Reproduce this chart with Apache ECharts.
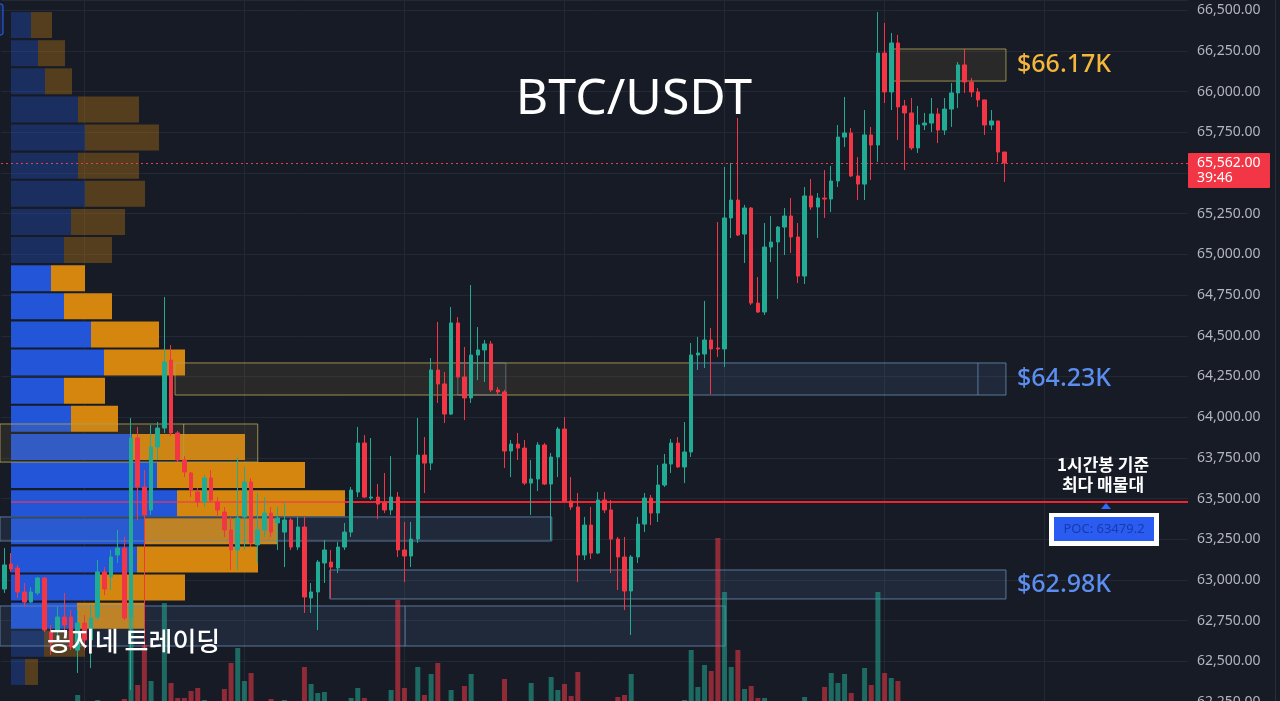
<!DOCTYPE html>
<html><head><meta charset="utf-8">
<script src="https://cdn.jsdelivr.net/npm/echarts@6/dist/echarts.min.js"></script>
<style>html,body{margin:0;padding:0;background:#171b26;overflow:hidden}#c{width:1280px;height:701px}</style>
</head><body><div id="c"></div>
<script>
// ---------- data ----------
const candleOpen = [62944,63098,63073,62926,62864,62920,63012,62680,62692,62772,62772,62569,62735,62631,62772,63049,63018,63153,63196,62772,
63872,63571,63430,63817,63933,64351,63903,63737,63657,63540,63479,63626,63479,63417,63307,63184,63387,63602,63215,63307,
63411,63350,63294,63368,63202,63325,62889,62926,63104,63110,63073,63202,63294,63540,63841,63503,63509,63473,63430,63509,
63184,63147,63251,63767,63718,64290,64204,64019,64579,64247,64118,64382,64413,64450,64167,64155,63792,63835,63810,63595,
63620,63829,63589,63755,63927,63485,63448,63153,63337,63165,63491,63430,63251,63141,62932,63141,63343,63503,63411,63583,
63712,63841,63694,63786,64382,64388,64474,64425,64419,65224,65334,65125,65285,64701,64646,65045,65076,65168,65236,65107,
64867,65359,65291,65346,65340,65451,65721,65746,65482,65432,65734,65672,66237,65998,66299,65912,65869,65654,65795,65807,
65863,65764,65893,65992,66164,66059,65998,65949,65795,65820,65629];
const candleClose = [63092,63067,62926,62864,62926,63012,62692,62612,62772,62723,62588,62735,62631,62766,63049,62944,63141,63196,62766,63872,
63571,63399,63817,63933,64339,63903,63737,63663,63552,63479,63626,63491,63430,63307,63184,63380,63602,63227,63307,63411,
63294,63380,63368,63202,63325,62895,62926,63110,63184,63079,63202,63294,63552,63841,63509,63509,63466,63430,63509,63184,
63147,63251,63767,63718,64290,64204,64019,64579,64247,64118,64382,64413,64450,64167,64155,63792,63835,63810,63595,63620,
63829,63589,63755,63927,63485,63448,63153,63337,63165,63491,63430,63251,63141,62932,63141,63343,63503,63411,63583,63712,
63841,63694,63786,64382,64394,64474,64419,64419,65224,65334,65119,65285,64701,64646,65045,65076,65168,65236,65107,64867,
65359,65291,65346,65340,65451,65721,65746,65482,65432,65734,65672,66237,65998,66299,65906,65869,65654,65795,65807,65863,
65764,65893,65992,66164,66059,65998,65949,65795,65820,65629,65562];
const candleLow = [62920,63049,62889,62834,62858,62907,62680,62539,62649,62680,62569,62428,62569,62459,62754,62907,62938,63104,62754,62324,
63368,62569,63400,63737,63903,63884,63724,63632,63509,63448,63448,63479,63387,63264,63061,63061,63184,63202,63104,63264,
63264,63184,63079,63184,63184,62797,62797,62692,62981,62889,63042,63184,63264,63509,63503,63491,63374,63411,63399,63141,
62987,63079,63227,63534,63675,64087,63964,64013,64241,63982,64087,64228,64216,64155,64136,63688,63632,63737,63583,63399,
63546,63583,63245,63632,63479,63430,62987,63122,63128,63159,63411,63042,62938,62815,62662,63104,63294,63337,63356,63571,
63657,63688,63595,63755,64290,64302,64142,64370,64308,65101,65113,64947,64689,64640,64628,64953,64726,64996,65009,64824,
64818,65273,65101,65224,65260,65414,65660,65475,65334,65334,65457,65568,65930,65887,65703,65518,65641,65623,65764,65752,
65684,65734,65783,65899,65992,65967,65906,65734,65764,65568,65445];
const candleHigh = [63196,63165,63092,62981,62956,63018,63018,62723,62834,62920,62815,62815,62784,62846,63122,63079,63184,63307,63264,63995,
63940,63675,63952,63970,64738,64443,63915,63761,63663,63565,63645,63675,63509,63448,63387,63755,63694,63626,63534,63509,
63448,63448,63473,63380,63387,63387,62981,63122,63245,63184,63233,63350,63571,63940,63890,63872,63589,63657,63761,63540,
63356,63356,63995,63878,64363,64585,64277,64677,64615,64431,64812,64554,64474,64468,64185,64167,63860,63903,63860,63737,
63847,63841,63780,63940,64001,63632,63534,63387,63448,63540,63540,63491,63264,63264,63153,63387,63534,63522,63706,63774,
63866,63878,63970,64456,64493,64714,64548,65199,65537,65562,65838,65304,65291,64861,65193,65236,65174,65285,65346,65193,
65414,65463,65377,65518,65543,65795,65967,65777,65598,65887,65783,66489,66422,66360,66348,65949,65961,65912,65869,65961,
65899,65961,66053,66182,66262,66084,66022,65949,65887,65820,65629];
const volumes = [120,90,140,110,80,100,150,170,130,120,160,260,140,180,210,150,120,130,220,1210,
360,760,400,190,1180,380,230,230,300,330,210,170,180,320,580,730,400,480,190,150,
220,140,210,180,160,540,370,280,290,190,170,150,230,330,230,160,140,180,310,1210,
330,190,540,260,470,580,190,310,180,350,470,170,150,190,120,420,180,150,190,380,
170,160,440,310,370,250,490,190,170,180,140,190,240,260,470,180,150,130,170,160,
140,190,210,710,340,560,500,1830,1290,540,710,320,350,230,230,180,150,170,190,160,
240,140,130,340,480,380,470,280,190,530,360,1290,480,430,400,150,120,100,80,90,
110,70,90,130,100,60,70,120,50,110,90];
const categories = candleOpen.map((_, i) => 'H' + (i + 1));
const emptySlots = 27;
const priceTickStep = 250;
const profileRowPrices = [66409,66236,66063,65890,65718,65545,65372,65199,65026,64853,64681,64508,64335,64162,63989,63817,63644,63471,63298,63125,62952,62780,62607,62434];
const profileBuy  = [20,27,34,67,74,67,74,60,53,40,53,80,93,53,60,121,146,166,133,126,87,66,33,14];
const profileSell = [21,27,27,61,74,61,60,54,48,34,48,68,81,41,47,113,148,168,134,121,87,68,41,13];
const valueAreaFirstRow = 9, valueAreaLastRow = 21;
const pocPrice = 63479.2;
const lastPrice = 65562;
const zones = [
  {from:133.25, to:150.2, low:66065, high:66262, kind:'supply'},
  {from:25.6, to:102.8, low:64136, high:64333, kind:'supply'},
  {from:68.0, to:75.2, low:64136, high:64333, kind:'grey'},
  {from:102.8, to:150.2, low:64136, high:64333, kind:'demand', divider:146.0},
  {from:-0.65, to:38.0, low:63724, high:63958, kind:'supply', divider:26.9},
  {from:-0.65, to:82.1, low:63239, high:63387, kind:'demand'},
  {from:48.8, to:150.2, low:62883, high:63061, kind:'demand'},
  {from:-0.65, to:108.1, low:62594, high:62840, kind:'demand', divider:60.1}
];
const pocStartBar = 51.0;

// ---------- styles ----------
const UP = '#22ab94', DOWN = '#f23645';
const BG = '#171b26', GRIDC = '#232835';
const zoneStyle = {
  supply: {fill:'rgba(160,140,60,0.13)', stroke:'rgba(175,160,85,0.85)'},
  demand: {fill:'rgba(80,120,165,0.16)', stroke:'rgba(105,140,180,0.8)'},
  grey:   {fill:'rgba(120,130,150,0.06)', stroke:'rgba(130,140,160,0.6)'}
};
const fmt = v => v.toLocaleString('en-US', {minimumFractionDigits:2, maximumFractionDigits:2});
const allCats = categories.concat(Array.from({length: emptySlots}, () => ''));

const chart = echarts.init(document.getElementById('c'), null, {renderer:'canvas'});

const candleData = candleOpen.map((o, i) => [o, candleClose[i], candleLow[i], candleHigh[i]]);
const volData = volumes.map((v, i) => ({
  value: v,
  itemStyle: {color: candleClose[i] >= candleOpen[i] ? 'rgba(34,171,148,0.55)' : 'rgba(242,54,69,0.55)'}
}));
const inVA = r => r >= valueAreaFirstRow && r <= valueAreaLastRow;
const buyData = profileBuy.map((v, r) => ({value: v, itemStyle: {color: '#2255d8', opacity: inVA(r) ? 1 : 0.33}}));
const sellData = profileSell.map((v, r) => ({value: v, itemStyle: {color: '#d4860f', opacity: inVA(r) ? 1 : 0.33}}));

function zoneRender(params, api) {
  const z = zones[params.dataIndex];
  const base = api.coord([0, z.high]);
  const bot = api.coord([0, z.low]);
  const bw = api.size([1, 0])[0];
  const xa = base[0] + z.from * bw, xb = base[0] + z.to * bw;
  const st = zoneStyle[z.kind];
  const children = [{
    type: 'rect',
    shape: {x: xa, y: base[1], width: xb - xa, height: bot[1] - base[1]},
    style: {fill: st.fill, stroke: st.stroke, lineWidth: 1}
  }];
  if (z.divider != null) {
    const xd = base[0] + z.divider * bw;
    children.push({type: 'line', shape: {x1: xd, y1: base[1], x2: xd, y2: bot[1]}, style: {stroke: st.stroke, lineWidth: 1}});
  }
  return {type: 'group', children};
}

function pocRender(params, api) {
  const cs = params.coordSys;
  const p = api.coord([0, pocPrice]);
  const bw = api.size([1, 0])[0];
  const xs = p[0] + pocStartBar * bw;
  return {type: 'group', children: [
    {type: 'line', shape: {x1: cs.x + 10, y1: p[1], x2: xs, y2: p[1]}, style: {stroke: 'rgba(235,60,80,0.6)', lineWidth: 2}},
    {type: 'line', shape: {x1: xs, y1: p[1], x2: cs.x + cs.width, y2: p[1]}, style: {stroke: '#f2232f', lineWidth: 2}}
  ]};
}

const option = {
  backgroundColor: BG,
  animation: false,
  grid: [
    {left: 1, right: 92, top: 0, bottom: -1, outerBoundsMode: 'none', containLabel: false},
    {left: 11, top: 11, width: 1000, height: 675, outerBoundsMode: 'none', containLabel: false},
    {left: 1, right: 92, top: 530, bottom: -20, outerBoundsMode: 'none', containLabel: false}
  ],
  xAxis: [
    {type: 'category', gridIndex: 0, data: allCats, boundaryGap: true,
     axisLine: {show: false}, axisLabel: {show: false},
     axisTick: {show: false, alignWithLabel: true},
     splitLine: {show: true, alignWithLabel: true, interval: (i) => i >= 12 && (i - 12) % 24 === 0, lineStyle: {color: GRIDC, width: 1}}},
    {type: 'value', gridIndex: 1, min: 0, max: 1000, show: false},
    {type: 'category', gridIndex: 2, data: allCats, boundaryGap: true, show: false}
  ],
  yAxis: [
    {type: 'value', gridIndex: 0, position: 'right', min: 62250, max: 66563, interval: priceTickStep,
     axisLine: {show: false}, axisTick: {show: false},
     axisLabel: {showMaxLabel: false, color: '#b2b5be', fontSize: 14, margin: 9, fontFamily: 'Noto Sans', formatter: v => fmt(v)},
     splitLine: {lineStyle: {color: GRIDC, width: 1}}},
    {type: 'category', gridIndex: 1, data: profileRowPrices.map(String), inverse: true, show: false},
    {type: 'value', gridIndex: 2, min: 0, max: 1910, show: false}
  ],
  series: [
    {name: 'buy', type: 'bar', xAxisIndex: 1, yAxisIndex: 1, stack: 'vp', barWidth: 26, data: buyData, z: 1, silent: true},
    {name: 'sell', type: 'bar', xAxisIndex: 1, yAxisIndex: 1, stack: 'vp', barWidth: 26, data: sellData, z: 1, silent: true},
    {name: 'zones', type: 'custom', xAxisIndex: 0, yAxisIndex: 0, clip: false, z: 2, silent: true,
     renderItem: zoneRender, data: zones.map(z => [0, z.low])},
    {name: 'volume', type: 'bar', xAxisIndex: 2, yAxisIndex: 2, barWidth: 5, data: volData, z: 3, silent: true},
    {name: 'poc', type: 'custom', xAxisIndex: 0, yAxisIndex: 0, clip: false, z: 4, silent: true,
     renderItem: pocRender, data: [[0, pocPrice]]},
    {name: 'BTC/USDT', type: 'candlestick', xAxisIndex: 0, yAxisIndex: 0, data: candleData, barWidth: 4, z: 5,
     itemStyle: {color: UP, color0: DOWN, borderColor: UP, borderColor0: DOWN, borderWidth: 1},
     markLine: {silent: true, symbol: ['none', 'none'], label: {show: false},
       lineStyle: {color: '#e8404c', type: [2, 3], width: 1, opacity: 1},
       data: [{yAxis: lastPrice}]}}
  ]
};
chart.setOption(option);

const py = chart.convertToPixel({yAxisIndex: 0}, lastPrice);
const pocY = chart.convertToPixel({yAxisIndex: 0}, pocPrice);
const zy = p => chart.convertToPixel({yAxisIndex: 0}, p);
const KR = '"Noto Sans CJK KR", "Noto Sans", sans-serif';
chart.setOption({graphic: [
  {type: 'line', shape: {x1: 1275.5, y1: 0, x2: 1275.5, y2: 701}, style: {stroke: '#2a2e39', lineWidth: 1}, z: 10},
  {type: 'rect', shape: {x: -4, y: 4, width: 7, height: 31, r: 2}, style: {fill: 'rgba(41,98,255,0.15)', stroke: '#2962ff', lineWidth: 1}, z: 10},
  {type: 'text', x: 634, y: 100, style: {text: 'BTC/USDT', fill: '#ffffff', font: '400 50px "Noto Sans", sans-serif', align: 'center', verticalAlign: 'middle'}, z: 20},
  {type: 'text', x: 1017, y: zy(66165), style: {text: '$66.17K', fill: '#f4b63b', font: '500 25px "Noto Sans", sans-serif', verticalAlign: 'middle'}, z: 20},
  {type: 'text', x: 1017, y: zy(64234), style: {text: '$64.23K', fill: '#5b8ef0', font: '500 25px "Noto Sans", sans-serif', verticalAlign: 'middle'}, z: 20},
  {type: 'text', x: 1017, y: zy(62972), style: {text: '$62.98K', fill: '#5b8ef0', font: '500 25px "Noto Sans", sans-serif', verticalAlign: 'middle'}, z: 20},
  {type: 'text', x: 1103, y: 465, style: {text: '1시간봉 기준', fill: '#ffffff', font: '700 17px ' + KR, align: 'center', verticalAlign: 'middle'}, z: 20},
  {type: 'text', x: 1103, y: 485, style: {text: '최다 매물대', fill: '#ffffff', font: '700 17px ' + KR, align: 'center', verticalAlign: 'middle'}, z: 20},
  {type: 'polygon', shape: {points: [[1106, pocY + 1], [1101, pocY + 7], [1111, pocY + 7]]}, style: {fill: '#2f6bff'}, z: 20},
  {type: 'rect', shape: {x: 1049, y: 513, width: 110, height: 33}, style: {fill: '#ffffff'}, z: 20},
  {type: 'rect', shape: {x: 1054, y: 517, width: 100, height: 24}, style: {fill: '#2a5cf2'}, z: 21},
  {type: 'text', x: 1104, y: 529, style: {text: 'POC: 63479.2', fill: '#1a3aa8', font: '13px "Noto Sans", sans-serif', align: 'center', verticalAlign: 'middle'}, z: 22},
  {type: 'text', x: 47, y: 641, style: {text: '공지네 트레이딩', fill: '#ffffff', font: '500 26px ' + KR, verticalAlign: 'middle', shadowColor: 'rgba(0,0,0,0.5)', shadowBlur: 2}, z: 20},
  {type: 'rect', shape: {x: 1188, y: py - 10, width: 82, height: 35, r: 1}, style: {fill: '#f23645'}, z: 20},
  {type: 'text', x: 1197, y: py, style: {text: fmt(lastPrice), fill: '#ffffff', font: '14px "Noto Sans", sans-serif', verticalAlign: 'middle'}, z: 21},
  {type: 'text', x: 1197, y: py + 15, style: {text: '39:46', fill: '#ffffff', font: '14px "Noto Sans", sans-serif', verticalAlign: 'middle'}, z: 21}
]});
</script>
</body></html>
